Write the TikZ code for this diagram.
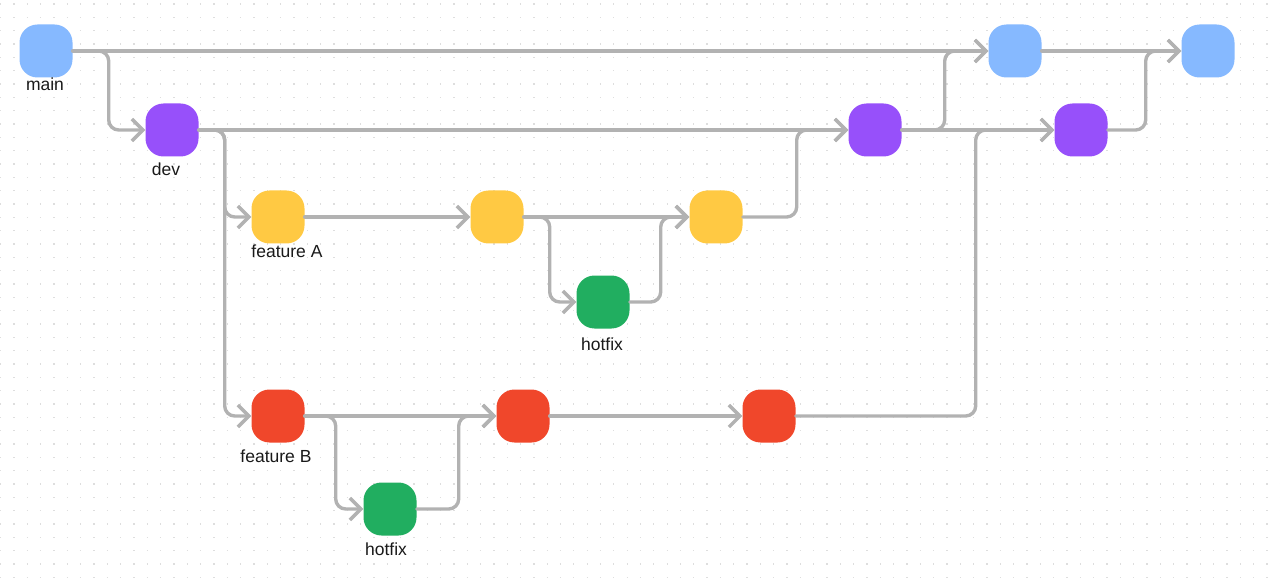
\documentclass[tikz,border=0pt]{standalone}
\usepackage{fontspec}
\setmainfont{Liberation Sans}
\usetikzlibrary{arrows.meta, positioning, calc}

\definecolor{mainblue}{RGB}{134,185,255}
\definecolor{devpurple}{RGB}{151,80,250}
\definecolor{featyellow}{RGB}{255,201,67}
\definecolor{fixgreen}{RGB}{33,174,96}
\definecolor{featred}{RGB}{240,71,43}
\definecolor{linegray}{RGB}{178,178,178}
\definecolor{labeltext}{RGB}{25,25,25}
\definecolor{dotgray}{RGB}{222,222,222}

\begin{document}
\begin{tikzpicture}[x=1pt, y=-1pt]
		\tikzstyle{commit} = [rectangle, rounded corners=18pt, minimum size=53pt, inner sep=0]
		\tikzstyle{tag} = [anchor=base, text=labeltext, font=\fontsize{17.5}{20}\selectfont, inner sep=0]

		\tikzstyle{branch_line} = [-{Straight Barb[length=11pt, width=22pt]}, line width=3.4pt, draw=linegray, rounded corners=10pt, line cap=round, line join=round]
		\tikzstyle{grid_dots} = [draw=dotgray, line width=1.3pt, dash pattern=on 1.3pt off 12.03pt]

		\useasboundingbox (0,0) rectangle (1280,588);

		% Background dots
		\foreach \r in {0,...,43} {
				\draw[grid_dots] (0, {4+\r*13.33}) -- (1280, {4+\r*13.33});
			};

		% Commits
		\node[commit, fill=mainblue](main_0) at (46,51) {};
		\node[commit, fill=mainblue](main_1) at (1015,51) {};
		\node[commit, fill=mainblue](main_2) at (1208,51) {};
		\node[commit, fill=devpurple](dev_0) at (172,130) {};
		\node[commit, fill=devpurple](dev_1) at (875,130) {};
		\node[commit, fill=devpurple](dev_2) at (1081,130) {};
		\node[commit, fill=featyellow](feat_a_0) at (278,217) {};
		\node[commit, fill=featyellow](feat_a_1) at (497,217) {};
		\node[commit, fill=featyellow](feat_a_2) at (716,217) {};
		\node[commit, fill=fixgreen](hotfix_a) at (603,302) {};
		\node[commit, fill=featred](feat_b_0) at (278,416) {};
		\node[commit, fill=featred](feat_b_1) at (523,416) {};
		\node[commit, fill=featred](feat_b_2) at (769,416) {};
		\node[commit, fill=fixgreen](hotfix_b) at (390,509) {};

		% Labels
		\node[tag](main_label) at (45,91) {main};
		\node[tag](dev_label) at (166,176) {dev};
		\node[tag](feat_a_label) at (287,258) {feature A};
		\node[tag](hotfix_a_label) at (602,350) {hotfix};
		\node[tag](feat_b_label) at (276,462) {feature B};
		\node[tag](hotfix_b_label) at (386,555) {hotfix};

		% Straight commits along a branch
		\foreach \a/\b in {main_0/main_1, main_1/main_2, dev_0/dev_1, dev_1/dev_2, feat_a_0/feat_a_1, feat_a_1/feat_a_2, feat_b_0/feat_b_1, feat_b_1/feat_b_2} {
				\path[branch_line] (\a) edge (\b);
			};

		% Branching off
		\draw[branch_line] (main_0.east) -- ++(36,0) |- (dev_0.west);
		\draw[branch_line] (dev_0.east) -- ++(26,0) |- (feat_a_0.west);
		\draw[branch_line] (dev_0.east) -- ++(26,0) |- (feat_b_0.west);
		\draw[branch_line] (feat_a_1.east) -- ++(26,0) |- (hotfix_a.west);
		\draw[branch_line] (feat_b_0.east) -- ++(31,0) |- (hotfix_b.west);

		% Merging back
		\draw[branch_line] (hotfix_a.east) -- ++(31,0) |- (feat_a_2.west);
		\draw[branch_line] (hotfix_b.east) -- ++(42,0) |- (feat_b_1.west);
		\draw[branch_line] (feat_a_2.east) -- ++(54,0) |- (dev_1.west);
		\draw[branch_line] (feat_b_2.east) -- ++(180,0) |- (dev_2.west);
		\draw[branch_line] (dev_1.east) -- ++(43,0) |- (main_1.west);
		\draw[branch_line] (dev_2.east) -- ++(38,0) |- (main_2.west);

	\end{tikzpicture}
\end{document}
